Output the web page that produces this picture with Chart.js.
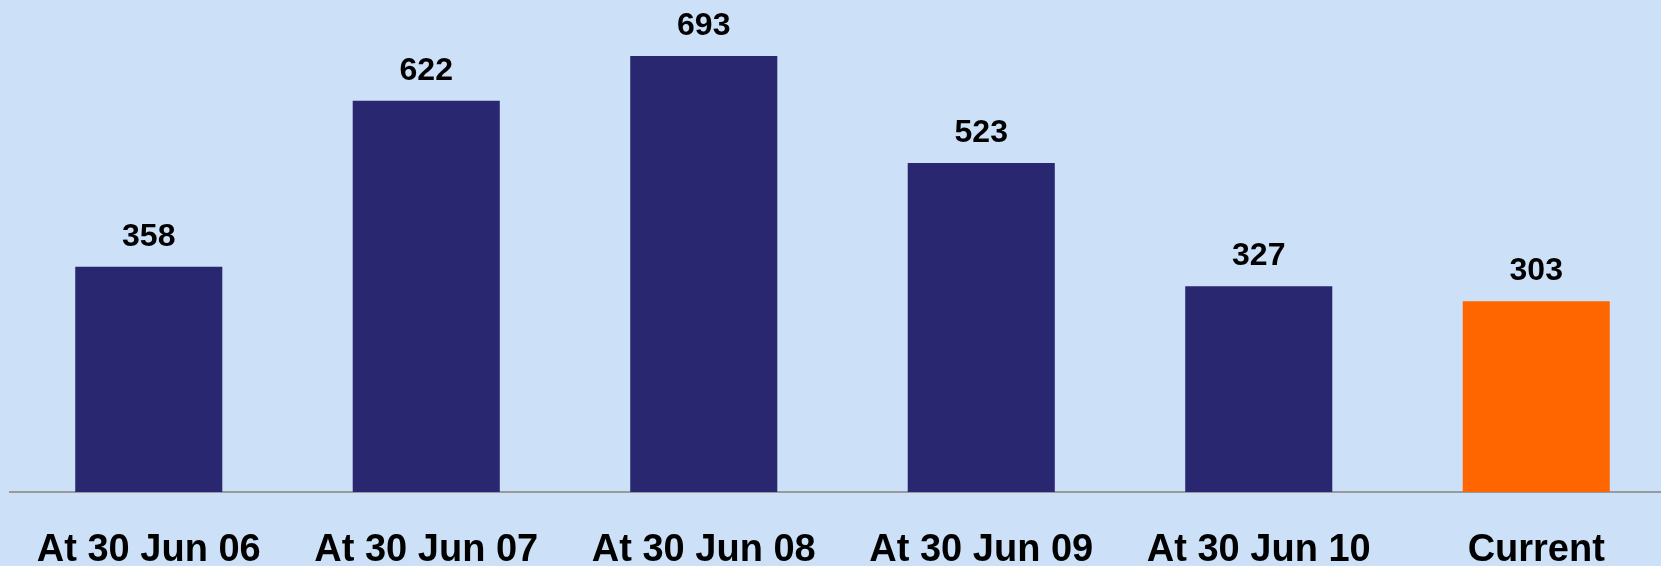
<!DOCTYPE html>
<html>
<head>
<meta charset="utf-8">
<script src="https://cdn.jsdelivr.net/npm/chart.js@4/dist/chart.umd.min.js"></script>
<style>
html,body{margin:0;padding:0;overflow:hidden;background:#CCE1F7;}
#wrap{position:relative;width:1675px;height:566px;}
</style>
</head>
<body>
<div id="wrap"><canvas id="c"></canvas></div>
<script>
const categories = ["At 30 Jun 06","At 30 Jun 07","At 30 Jun 08","At 30 Jun 09","At 30 Jun 10","Current"];
const values = [358, 622, 693, 523, 327, 303];
const barColors = ["#28276F","#28276F","#28276F","#28276F","#28276F","#FF6600"];

const valueLabels = {
  id: 'valueLabels',
  afterDatasetsDraw(chart) {
    const ctx = chart.ctx;
    const meta = chart.getDatasetMeta(0);
    ctx.save();
    ctx.font = 'bold 32px "Liberation Sans", Arial, sans-serif';
    ctx.fillStyle = '#000';
    ctx.textAlign = 'center';
    ctx.textBaseline = 'alphabetic';
    meta.data.forEach((bar, i) => {
      ctx.fillText(String(values[i]), bar.x, bar.y - 21);
    });
    ctx.restore();
  }
};

new Chart(document.getElementById('c'), {
  type: 'bar',
  data: {
    labels: categories,
    datasets: [{
      data: values,
      backgroundColor: barColors,
      barPercentage: 0.53,
      categoryPercentage: 1.0
    }]
  },
  options: {
    responsive: true,
    maintainAspectRatio: false,
    animation: false,
    layout: { padding: { left: 10, right: 0, top: 0, bottom: 0 } },
    plugins: { legend: { display: false }, tooltip: { enabled: false } },
    scales: {
      x: {
        grid: { display: false, drawTicks: false },
        border: { display: true, color: '#9a9a9a', width: 2 },
        afterFit(scale) { scale.height = 74; },
        ticks: {
          color: '#000',
          font: { family: '"Liberation Sans", Arial, sans-serif', size: 38, weight: 'bold' },
          padding: 36,
          maxRotation: 0,
          autoSkip: false
        }
      },
      y: {
        display: false,
        min: 0,
        max: 782
      }
    }
  },
  plugins: [valueLabels]
});
</script>
</body>
</html>
